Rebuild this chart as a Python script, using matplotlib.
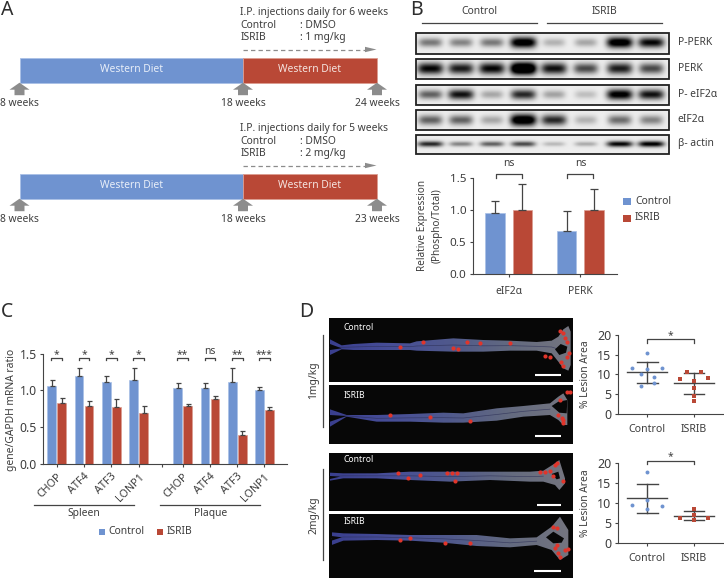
import numpy as np
import matplotlib
matplotlib.use("Agg")
import matplotlib.pyplot as plt
from matplotlib.colors import LinearSegmentedColormap
from matplotlib.patches import Polygon, Rectangle

W, H = 724, 578
BLUE = "#6f93d0"
RED = "#b94836"
TXT = "#3d3d3d"
GREY = "#8c8c8c"

plt.rcParams["font.family"] = ["Noto Sans", "DejaVu Sans"]
plt.rcParams["text.color"] = TXT
plt.rcParams["axes.edgecolor"] = "#444444"
plt.rcParams["xtick.color"] = "#444444"
plt.rcParams["ytick.color"] = "#444444"
plt.rcParams["xtick.labelcolor"] = TXT
plt.rcParams["ytick.labelcolor"] = TXT

# panel B blots, band strength per lane
lanes_x = [430, 460.7, 491.7, 523.3, 554, 586, 620, 651.7]
blot_names = ["P-PERK", "PERK", "P- eIF2\u03b1", "eIF2\u03b1", "\u03b2- actin"]
blot_bands = [
    [0.50, 0.45, 0.50, 1.20, 0.25, 0.30, 1.20, 1.00],
    [1.00, 0.90, 1.00, 1.60, 0.95, 0.70, 0.90, 0.70],
    [0.60, 0.95, 0.30, 0.85, 0.32, 0.20, 1.10, 0.95],
    [0.60, 0.60, 0.30, 1.30, 0.85, 0.25, 0.55, 0.45],
    [0.85, 0.45, 0.60, 0.70, 0.22, 0.28, 1.00, 1.05],
]

# panel B bars
b_groups = ["eIF2\u03b1", "PERK"]
b_control = [0.96, 0.67]
b_control_top = [1.15, 0.98]
b_isrib = [1.01, 1.01]
b_isrib_top = [1.41, 1.34]

# panel C bars
c_genes = ["CHOP", "ATF4", "ATF3", "LONP1", "CHOP", "ATF4", "ATF3", "LONP1"]
c_pos = [0, 1, 2, 3, 4.61, 5.61, 6.61, 7.6]
c_control = [1.06, 1.19, 1.11, 1.14, 1.03, 1.03, 1.12, 1.01]
c_control_top = [1.14, 1.31, 1.20, 1.30, 1.10, 1.10, 1.31, 1.04]
c_isrib = [0.83, 0.79, 0.77, 0.69, 0.79, 0.88, 0.39, 0.73]
c_isrib_top = [0.89, 0.86, 0.88, 0.79, 0.82, 0.93, 0.44, 0.77]
c_sig = ["*", "*", "*", "*", "**", "ns", "**", "***"]

# panel D scatter, 1 mg/kg then 2 mg/kg
d1_control_x = [0, -0.32, 0, 0.32, -0.14, 0.14, 0.14, -0.14]
d1_control = [15.5, 11.5, 11.4, 11.5, 10.0, 9.3, 7.8, 7.0]
d1_isrib_x = [-0.14, 0.14, 0, -0.3, 0.3, 0, 0, 0]
d1_isrib = [10.6, 10.6, 8.4, 8.8, 9.0, 6.6, 4.6, 3.3]
d1_stats = [(10.5, 13.2, 7.9), (7.7, 10.4, 5.1)]
d2_control_x = [0, 0, -0.32, 0.32, 0]
d2_control = [17.8, 10.8, 9.5, 9.3, 8.4]
d2_isrib_x = [0, 0, -0.3, 0.3, 0]
d2_isrib = [8.6, 7.0, 6.2, 6.2, 5.6]
d2_stats = [(11.2, 14.9, 7.4), (6.8, 7.9, 5.7)]

# aorta outlines and lesion spots for the four photos (crop pixels)
aorta_x = [
    [60, 95, 130, 200, 300, 320, 430, 520, 600, 680, 725, 745, 760, 775, 782],
    [60, 110, 200, 300, 400, 460, 560, 640, 720, 745, 760, 772],
    [60, 100, 200, 300, 420, 540, 660, 700, 735, 748, 765],
    [65, 100, 200, 300, 400, 500, 600, 680, 725, 750, 775],
]
aorta_top = [
    [118, 136, 132, 128, 130, 124, 115, 120, 122, 126, 122, 110, 88, 78, 95],
    [328, 345, 345, 342, 338, 340, 325, 318, 310, 290, 280, 300],
    [518, 520, 520, 515, 515, 515, 515, 512, 490, 480, 535],
    [697, 700, 702, 705, 705, 705, 715, 712, 680, 650, 690],
]
aorta_bottom = [
    [165, 148, 150, 150, 150, 152, 155, 155, 152, 152, 160, 185, 205, 212, 195],
    [380, 350, 365, 365, 368, 368, 362, 350, 345, 360, 375, 375],
    [542, 535, 535, 540, 545, 540, 545, 545, 555, 570, 550],
    [735, 722, 720, 722, 728, 738, 742, 735, 750, 780, 765],
]
notch_x = [[60, 95, 60], [60, 110, 60], [60, 90, 60], [65, 95, 65]]
notch_y = [[132, 145, 150], [345, 348, 365], [528, 530, 537], [708, 712, 722]]
hole_x = [[735, 752, 772, 768, 748], [725, 745, 772, 770, 748], [725, 745, 750, 740], [708, 730, 762, 755, 730]]
hole_y = [[148, 132, 140, 158, 165], [318, 305, 300, 340, 338], [522, 515, 535, 538], [712, 695, 715, 728, 730]]
spots_x = [[270, 340, 430, 445, 470, 510, 600, 705, 720, 750, 758, 765, 772, 752, 758, 778, 770],
           [240, 360, 480, 745, 755, 760, 770, 780, 750, 758],
           [265, 295, 330, 410, 425, 440, 435, 690, 705, 720, 735, 740, 760, 730],
           [270, 300, 405, 480, 730, 742, 735, 745, 765, 750, 742, 775]]
spots_y = [[142, 125, 145, 148, 125, 130, 130, 168, 170, 92, 100, 115, 125, 185, 198, 160, 172],
           [345, 350, 362, 345, 355, 370, 275, 275, 300, 360],
           [518, 535, 525, 520, 520, 520, 542, 515, 515, 512, 495, 490, 543, 528],
           [720, 715, 730, 728, 680, 685, 745, 760, 750, 770, 735, 748]]

CROP_X, CROP_Y = 310, 300


def px_axes(left, top, right, bottom):
    return fig.add_axes([left / W, 1 - bottom / H, (right - left) / W, (bottom - top) / H])


def clean(ax):
    ax.spines["top"].set_visible(False)
    ax.spines["right"].set_visible(False)
    ax.patch.set_alpha(0)


def bracket(ax, x0, x1, y, leg):
    ax.plot([x0, x0, x1, x1], [y - leg, y, y, y - leg], color="#444444", lw=0.9, clip_on=False)


fig = plt.figure(figsize=(W / 100, H / 100), dpi=100)
bg = fig.add_axes([0, 0, 1, 1])
bg.set_xlim(0, W)
bg.set_ylim(H, 0)
bg.axis("off")

for label, x, y in [("A", 1, 10), ("B", 410, 10), ("C", 1, 312), ("D", 299, 312)]:
    bg.text(x, y, label, fontsize=14, va="center", ha="left", color="#2d2d2d")

# panel A timelines
for top, note, dose, end in [(58, "6", "1 mg/kg", "24 weeks"), (174, "5", "2 mg/kg", "23 weeks")]:
    bg.add_patch(Rectangle((19.5, top), 223.5, 24.5, fc=BLUE, ec="#a9c0e6", lw=0.6))
    bg.add_patch(Rectangle((243, top), 134, 24.5, fc=RED, ec="#dc9c90", lw=0.6))
    bg.text(131, top + 11.5, "Western Diet", color="#e8eef8", fontsize=7.4, ha="center", va="center")
    bg.text(310, top + 11.5, "Western Diet", color="#f5e4e0", fontsize=7.4, ha="center", va="center")
    tip = top + 24.7
    for x, wk in [(19.5, "8 weeks"), (243, "18 weeks"), (377, end)]:
        bg.add_patch(Polygon([(x, tip), (x + 10, tip + 7), (x + 5, tip + 7), (x + 5, tip + 12.5),
                              (x - 5, tip + 12.5), (x - 5, tip + 7), (x - 10, tip + 7)], fc=GREY, ec="none"))
        bg.text(x, tip + 20.5, wk, fontsize=7.4, ha="center", va="center")
    bg.text(240.5, top - 45, "I.P. injections daily for %s weeks" % note, fontsize=7.4, va="center")
    bg.text(240.5, top - 33, "Control", fontsize=7.4, va="center")
    bg.text(300, top - 33, ": DMSO", fontsize=7.4, va="center")
    bg.text(240.5, top - 20.5, "ISRIB", fontsize=7.4, va="center")
    bg.text(300, top - 20.5, ": " + dose, fontsize=7.4, va="center")
    bg.plot([243, 366], [top - 8.5, top - 8.5], color=GREY, lw=0.9, dashes=(3.5, 2.5))
    bg.add_patch(Polygon([(365, top - 11.2), (376.5, top - 8.5), (365, top - 5.8)], fc=GREY, ec="none"))

# panel B blots
bg.text(479, 12, "Control", fontsize=7.4, ha="center", va="center")
bg.text(604.7, 12, "ISRIB", fontsize=7.4, ha="center", va="center")
bg.plot([421.7, 536.7], [23, 23], color="#444444", lw=0.9)
bg.plot([547.3, 662.3], [23, 23], color="#444444", lw=0.9)
blot_boxes = [(32.5, 53.5), (58.5, 79), (84.5, 105), (110, 130), (134.5, 154)]
band_h = [4.6, 5.2, 4.6, 5.2, 2.8]
xx, yy = np.meshgrid(np.linspace(416, 669, 254), np.linspace(-10.5, 10.5, 22))
for box, name, bands, bh in zip(blot_boxes, blot_names, blot_bands, band_h):
    dark = np.zeros_like(xx)
    for cx, amp in zip(lanes_x, bands):
        half = 10.5 + 2.5 * min(amp, 1.0)
        dark += amp * np.exp(-((xx - cx) / half) ** 4) * np.exp(-(yy / (bh * (0.85 + 0.3 * min(amp, 1.2)))) ** 2)
    img = np.clip(0.93 - 0.93 * dark, 0, 1)
    bg.imshow(img, cmap="gray", vmin=0, vmax=1, extent=(416, 669, box[1], box[0]),
              aspect="auto", interpolation="bilinear", zorder=1)
    bg.add_patch(Rectangle((416, box[0]), 253, box[1] - box[0], fc="none", ec="#222222", lw=1.3, zorder=2))
    bg.text(677.7, sum(box) / 2 - 0.5, name, fontsize=7.4, va="center")
bg.set_xlim(0, W)
bg.set_ylim(H, 0)

# panel B chart
ax_b = px_axes(472.7, 178.3, 616.7, 274)
clean(ax_b)
xb = np.arange(len(b_groups))
for off, vals, tops, col, edge in [(-0.19, b_control, b_control_top, BLUE, "#a9c0e6"),
                                   (0.19, b_isrib, b_isrib_top, RED, "#dc9c90")]:
    ax_b.bar(xb + off, vals, 0.27, color=col, edgecolor=edge, linewidth=0.5)
    ax_b.errorbar(xb + off, vals, yerr=[np.zeros(2), np.array(tops) - np.array(vals)], fmt="none",
                  ecolor="#444444", elinewidth=0.9, capsize=3, capthick=0.9)
ax_b.set_xlim(-0.503, 1.508)
ax_b.set_ylim(0, 1.5)
ax_b.set_yticks([0, 0.5, 1.0, 1.5], ["0.0", "0.5", "1.0", "1.5"])
ax_b.set_xticks(xb, b_groups)
ax_b.tick_params(labelsize=8.4, length=2.5, width=0.8, pad=2)
ax_b.tick_params(axis="x", labelsize=7.4, pad=6)
for x in xb:
    bracket(ax_b, x - 0.18, x + 0.18, 1.56, 0.05)
    ax_b.text(x, 1.64, "ns", fontsize=7.4, ha="center", va="bottom", clip_on=False)
bg.text(423, 225.7, "Relative Expression", fontsize=7.2, rotation=90, ha="center", va="center")
bg.text(436.7, 225.7, "(Phospho/Total)", fontsize=7.2, rotation=90, ha="center", va="center")
for y, col, name in [(201.5, BLUE, "Control"), (218, RED, "ISRIB")]:
    bg.add_patch(Rectangle((623, y - 3.5), 7.5, 7, fc=col, ec="none"))
    bg.text(635, y, name, fontsize=7.4, va="center")

# panel C chart
ax_c = px_axes(43.3, 353.7, 287.3, 463.7)
clean(ax_c)
xc = np.array(c_pos)
for off, vals, tops, col, edge in [(-0.183, c_control, c_control_top, BLUE, "#a9c0e6"),
                                   (0.183, c_isrib, c_isrib_top, RED, "#dc9c90")]:
    ax_c.bar(xc + off, vals, 0.31, color=col, edgecolor=edge, linewidth=0.5)
    ax_c.errorbar(xc + off, vals, yerr=[np.zeros(8), np.array(tops) - np.array(vals)], fmt="none",
                  ecolor="#444444", elinewidth=0.9, capsize=1.8, capthick=0.9)
ax_c.set_xlim(-0.49, 8.44)
ax_c.set_ylim(0, 1.5)
ax_c.set_yticks([0, 0.5, 1.0, 1.5], ["0.0", "0.5", "1.0", "1.5"])
ax_c.set_xticks(list(xc) + [3.84])
ax_c.set_xticklabels(c_genes + [""], rotation=45, ha="right", rotation_mode="anchor")
ax_c.tick_params(labelsize=8.8, length=2.5, width=0.8, pad=2)
ax_c.tick_params(axis="x", labelsize=7.8, pad=3)
for x, s in zip(xc, c_sig):
    bracket(ax_c, x - 0.2, x + 0.2, 1.445, 0.03)
    if s == "ns":
        ax_c.text(x, 1.46, s, fontsize=7.4, ha="center", va="bottom", clip_on=False)
    else:
        ax_c.text(x, 1.41, s, fontsize=7.4, ha="center", va="bottom", clip_on=False)
bg.text(12, 410, "gene/GAPDH mRNA ratio", fontsize=7.4, rotation=90, ha="center", va="center")
bg.plot([34.3, 134.3], [505.3, 505.3], color="#444444", lw=0.9)
bg.plot([160.3, 260.3], [505.3, 505.3], color="#444444", lw=0.9)
bg.text(84.3, 513.3, "Spleen", fontsize=7.4, ha="center", va="center")
bg.text(210.7, 513.3, "Plaque", fontsize=7.4, ha="center", va="center")
bg.add_patch(Rectangle((98.7, 528.5), 6.3, 6.5, fc=BLUE, ec="none"))
bg.text(108.7, 531.3, "Control", fontsize=7.4, va="center")
bg.add_patch(Rectangle((157, 528.5), 6.3, 6.5, fc=RED, ec="none"))
bg.text(167, 531.3, "ISRIB", fontsize=7.4, va="center")

# panel D photos
aorta_cmap = LinearSegmentedColormap.from_list("aorta", ["#3a3f8e", "#474e98", "#50598c", "#636a80", "#74757f"])
photo_boxes = [(318.3, 382.3), (385, 443.7), (453.3, 511.3), (514, 578)]
photo_names = ["Control", "ISRIB", "Control", "ISRIB"]
name_y = [327.5, 396, 459, 522]
bar_x = [(535, 561), (535, 561), (537, 561), (534.3, 561)]
bar_y = [375, 436.3, 505, 571.3]
gradient = np.linspace(0, 1, 200).reshape(1, -1)
for i, box in enumerate(photo_boxes):
    bg.add_patch(Rectangle((329, box[0]), 244.3, box[1] - box[0], fc="#070707", ec="none", zorder=1))
    px = CROP_X + np.array(aorta_x[i]) / 3
    ptop = CROP_Y + np.array(aorta_top[i]) / 3
    pbot = CROP_Y + np.array(aorta_bottom[i]) / 3
    outline = np.column_stack([np.r_[px, px[::-1]], np.r_[ptop, pbot[::-1]]])
    shape = Polygon(outline, closed=True, transform=bg.transData, fc="none", ec="none")
    bg.add_patch(shape)
    im = bg.imshow(gradient, cmap=aorta_cmap, extent=(px[0], px[-1], box[1], box[0]), aspect="auto", zorder=2)
    im.set_clip_path(shape)
    mid = (ptop + pbot) / 2
    bg.plot(px[:-3], mid[:-3], color="#2b2e55", lw=0.5, alpha=0.7, zorder=2.5)
    bg.add_patch(Polygon(np.column_stack([CROP_X + np.array(notch_x[i]) / 3, CROP_Y + np.array(notch_y[i]) / 3]),
                         fc="#070707", ec="none", zorder=2.6))
    bg.add_patch(Polygon(np.column_stack([CROP_X + np.array(hole_x[i]) / 3, CROP_Y + np.array(hole_y[i]) / 3]),
                         fc="#070707", ec="none", zorder=2.6))
    sx = CROP_X + np.array(spots_x[i]) / 3
    sy = CROP_Y + np.array(spots_y[i]) / 3
    bg.scatter(sx, sy, s=9, color="#e0352b", linewidths=0, zorder=3)
    bg.text(343.3, name_y[i], photo_names[i], color="white", fontsize=6.2, fontweight="bold", va="center", zorder=4)
    bg.plot(bar_x[i], [bar_y[i], bar_y[i]], color="white", lw=1.5, solid_capstyle="butt", zorder=4)
bg.set_xlim(0, W)
bg.set_ylim(H, 0)
bg.text(314, 380, "1mg/kg", fontsize=7.4, rotation=90, ha="center", va="center")
bg.plot([323.3, 323.3], [335, 426.7], color="#444444", lw=0.9)
bg.text(314, 515, "2mg/kg", fontsize=7.4, rotation=90, ha="center", va="center")
bg.plot([323.3, 323.3], [469, 560], color="#444444", lw=0.9)


# panel D scatter plots
def lesion_plot(top, bottom, cx, cy, ix, iy, stats, br_y):
    ax = px_axes(617.7, top, 724, bottom)
    clean(ax)
    ax.scatter(cx, cy, s=8, color=BLUE, marker="o", linewidths=0, zorder=3)
    ax.scatter(ix, iy, s=10, color=RED, marker="s", linewidths=0, zorder=3)
    for x, (mean, hi, lo) in enumerate(stats):
        ax.plot([x - 0.43, x + 0.43], [mean, mean], color="#444444", lw=1.0)
        ax.plot([x, x], [lo, hi], color="#444444", lw=1.0)
        ax.plot([x - 0.22, x + 0.22], [hi, hi], color="#444444", lw=1.0)
        ax.plot([x - 0.22, x + 0.22], [lo, lo], color="#444444", lw=1.0)
    ax.set_xlim(-0.634, 1.642)
    ax.set_ylim(0, 20)
    ax.set_yticks([0, 5, 10, 15, 20])
    ax.set_xticks([0, 1], ["Control", "ISRIB"])
    ax.tick_params(labelsize=9, length=2.5, width=0.8, pad=2)
    ax.tick_params(axis="x", labelsize=7.6, pad=5)
    bracket(ax, 0, 1, br_y, 0.8)
    ax.text(0.5, br_y - 0.3, "*", fontsize=7.4, ha="center", va="bottom", clip_on=False)
    return ax


lesion_plot(334.7, 414, np.array(d1_control_x), d1_control, 1 + np.array(d1_isrib_x), d1_isrib, d1_stats, 18.8)
lesion_plot(463.3, 542.7, np.array(d2_control_x), d2_control, 1 + np.array(d2_isrib_x), d2_isrib, d2_stats, 20.5)
bg.text(585, 374, "% Lesion Area", fontsize=7.4, rotation=90, ha="center", va="center")
bg.text(585, 503, "% Lesion Area", fontsize=7.4, rotation=90, ha="center", va="center")

fig.savefig("out.png", dpi=100)
